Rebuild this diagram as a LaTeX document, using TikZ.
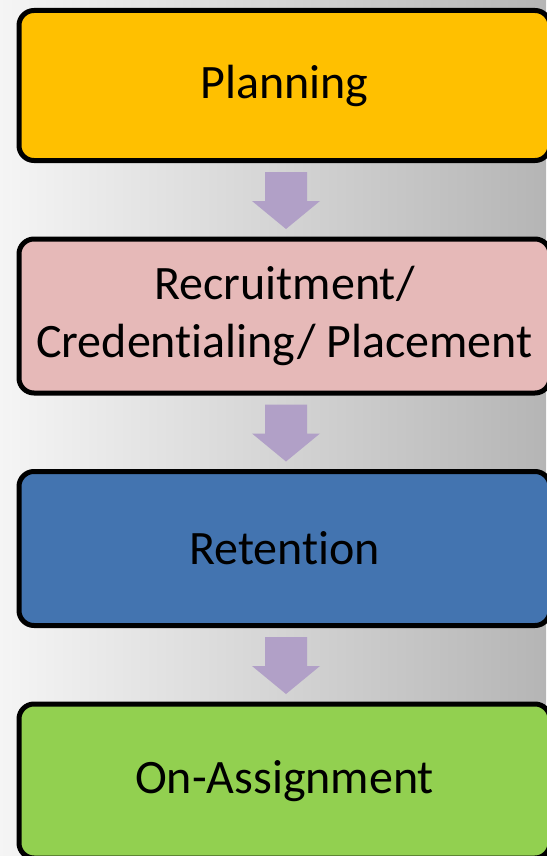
\documentclass[tikz,border=0pt]{standalone}
\usepackage{fontspec}
\setmainfont{Carlito}[Ligatures=NoCommon]
\usepackage{xcolor}
\definecolor{planyellow}{HTML}{FFC000}
\definecolor{recruitpink}{HTML}{E6B9B8}
\definecolor{retainblue}{HTML}{4374B0}
\definecolor{assigngreen}{HTML}{92D050}
\definecolor{arrowlilac}{HTML}{B1A0C7}
\usetikzlibrary{positioning}

\begin{document}
\begin{tikzpicture}[
    x=1pt, y=1pt,
    stage/.style={draw=black, line width=5pt, rounded corners=15pt,
        minimum width=531pt, minimum height=154pt, align=center,
        font=\fontsize{48}{58}\selectfont},
    flowarrow/.style={fill=arrowlilac},
    node distance=73.5pt
]

% Fondo con degradado
\shade[left color=black!4, right color=black!29] (0,0) rectangle (546,-856);
\useasboundingbox (0,0) rectangle (546,-856);

% Etapas del proceso
\node[stage, fill=planyellow, minimum height=150pt] (plan) at (284.5,-85.5) {Planning};
\node[stage, fill=recruitpink, below=of plan] (recruit) {Recruitment/\\Credentialing/ Placement};
\node[stage, fill=retainblue, below=of recruit] (retain) {Retention};
\node[stage, fill=assigngreen, below=of retain] (assign) {On-Assignment};

% Flechas de bloque entre etapas
\foreach \a/\b in {plan/recruit, recruit/retain, retain/assign} {
    \fill[flowarrow] ([xshift=-19.5pt, yshift=-9pt]\a.south)
        -- ++(42,0) -- ++(0,-29) -- ++(13,0)
        -- ++(-34,-28) -- ++(-34,28) -- ++(13,0) -- cycle;
}

\end{tikzpicture}
\end{document}
